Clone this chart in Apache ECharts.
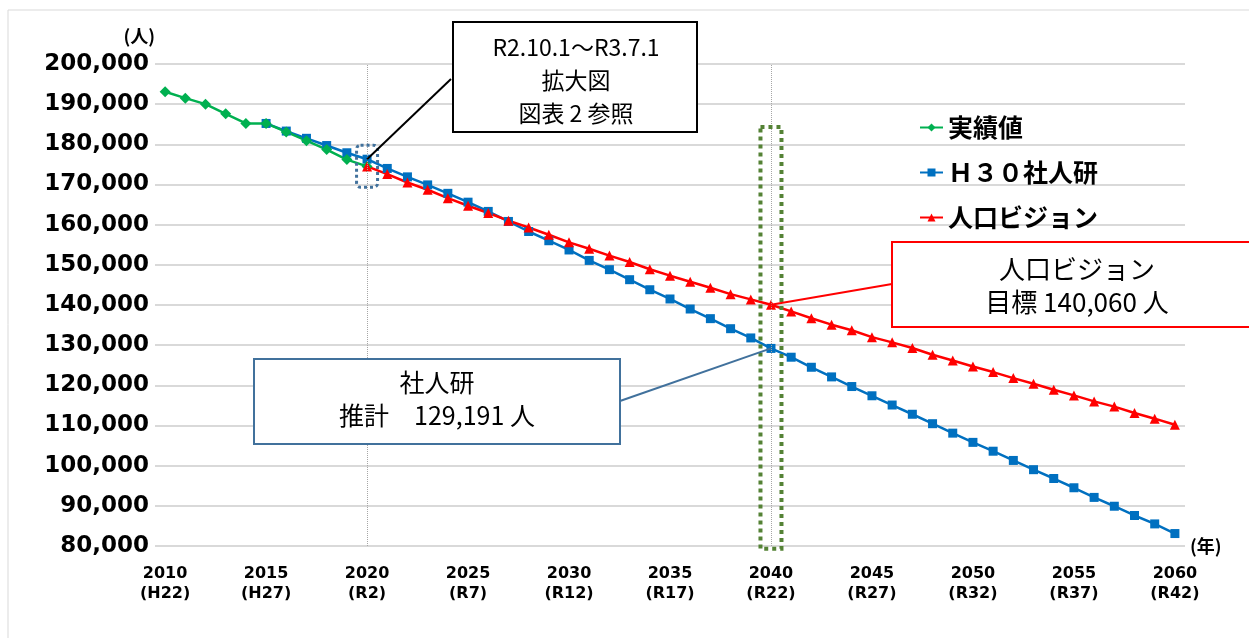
<!DOCTYPE html>
<html>
<head>
<meta charset="utf-8">
<script src="https://cdn.jsdelivr.net/npm/echarts@6/dist/echarts.min.js"></script>
<style>
  html, body { margin: 0; padding: 0; background: #fff; }
  #main { width: 1249px; height: 638px; }
</style>
</head>
<body>
<div id="main"></div>
<script>
// 年（横軸）
const years = [
  '2010', '2011', '2012', '2013', '2014', '2015', '2016', '2017', '2018', '2019',
  '2020', '2021', '2022', '2023', '2024', '2025', '2026', '2027', '2028', '2029',
  '2030', '2031', '2032', '2033', '2034', '2035', '2036', '2037', '2038', '2039',
  '2040', '2041', '2042', '2043', '2044', '2045', '2046', '2047', '2048', '2049',
  '2050', '2051', '2052', '2053', '2054', '2055', '2056', '2057', '2058', '2059',
  '2060'
]
// 5年ごとの和暦ラベル
const eraLabels = ['H22', 'H27', 'R2', 'R7', 'R12', 'R17', 'R22', 'R27', 'R32', 'R37', 'R42']

// 実績値 2010〜2020
const actualStart = '2010'
const actualValues = [193100, 191500, 190000, 187600, 185200, 185200, 183100, 180900, 178700, 176200, 174500]

// H30社人研 2015〜2060
const ipssStart = '2015'
const ipssValues = [
  185200, 183300, 181500, 179700, 177900, 176300, 174000, 171900, 169900, 167800,
  165600, 163300, 160800, 158300, 156000, 153700, 151100, 148800, 146300, 143800,
  141500, 139000, 136600, 134100, 131800, 129191, 127000, 124500, 122100, 119700,
  117400, 115100, 112800, 110450, 108100, 105800, 103600, 101300, 99000, 96800,
  94500, 92100, 89900, 87600, 85500, 83100
]

// 人口ビジョン 2020〜2060
const visionStart = '2020'
const visionValues = [
  174500, 172600, 170500, 168700, 166600, 164700, 162900, 161000, 159300, 157500,
  155600, 154000, 152300, 150700, 148900, 147300, 145800, 144300, 142700, 141400,
  140060, 138400, 136700, 135100, 133700, 132000, 130700, 129300, 127600, 126200,
  124700, 123300, 121800, 120400, 118900, 117500, 116000, 114700, 113100, 111700,
  110200
]

// 開始年に合わせて null で埋める
function pad (values, start) {
  const out = years.map(() => null)
  const s = years.indexOf(start)
  values.forEach((v, i) => { out[s + i] = v })
  return out
}

const actual = pad(actualValues, actualStart)
const ipss = pad(ipssValues, ipssStart)
const vision = pad(visionValues, visionStart)

const jp = '"Noto Sans CJK JP", "Noto Sans", sans-serif'
const num = '"DejaVu Sans", sans-serif'

const myChart = echarts.init(document.getElementById('main'))

const option = {
  backgroundColor: '#fff',
  animation: false,
  grid: { left: 155, right: 64, top: 64, bottom: 92 },
  legend: {
    orient: 'vertical',
    left: 914,
    top: 110,
    itemGap: 20,
    itemWidth: 23,
    itemHeight: 10,
    textStyle: { fontFamily: jp, fontSize: 25, fontWeight: 'bold', color: '#000' },
    data: ['実績値', 'Ｈ３０社人研', '人口ビジョン']
  },
  xAxis: {
    type: 'category',
    data: years,
    boundaryGap: true,
    name: '(年)',
    nameLocation: 'end',
    nameGap: 5,
    nameTextStyle: { fontFamily: jp, fontSize: 18, fontWeight: 'bold', color: '#000' },
    axisLine: { show: false },
    axisTick: { show: false },
    axisLabel: {
      interval: 4,
      margin: 18,
      lineHeight: 20,
      fontFamily: num,
      fontSize: 16,
      fontWeight: 'bold',
      color: '#000',
      formatter: function (value, index) {
        return value + '\n(' + eraLabels[index / 5] + ')'
      }
    }
  },
  yAxis: {
    type: 'value',
    min: 80000,
    max: 200000,
    interval: 10000,
    name: '(人)',
    nameLocation: 'end',
    nameGap: 19,
    nameTextStyle: { fontFamily: jp, fontSize: 18, fontWeight: 'bold', color: '#000', align: 'right' },
    axisLabel: {
      margin: 6,
      fontFamily: num,
      fontSize: 23,
      fontWeight: 'bold',
      color: '#000',
      formatter: function (v) { return v.toLocaleString('en-US') }
    },
    splitLine: { lineStyle: { color: '#d9d9d9', width: 2 } }
  },
  series: [
    {
      name: 'Ｈ３０社人研',
      type: 'line',
      data: ipss,
      color: '#0070c0',
      symbol: 'rect',
      symbolSize: 9,
      lineStyle: { width: 2.5 },
      markLine: {
        silent: true,
        symbol: 'none',
        label: { show: false },
        lineStyle: { color: '#a6a6a6', type: 'dotted', width: 1 },
        data: [{ xAxis: '2020' }, { xAxis: '2040' }]
      }
    },
    {
      name: '実績値',
      type: 'line',
      data: actual,
      color: '#00b050',
      symbol: 'diamond',
      symbolSize: 11,
      lineStyle: { width: 2.5 }
    },
    {
      name: '人口ビジョン',
      type: 'line',
      data: vision,
      color: '#ff0000',
      symbol: 'triangle',
      symbolSize: 10,
      lineStyle: { width: 2.5 }
    }
  ]
}
myChart.setOption(option)

// 注記（吹き出し）をデータ位置から配置
function px (year, v) {
  return myChart.convertToPixel({ gridIndex: 0 }, [year, v])
}
const p2020 = px('2020', ipss[years.indexOf('2020')])
const pIpss2040 = px('2040', ipss[years.indexOf('2040')])
const pVis2040 = px('2040', vision[years.indexOf('2040')])
const band = 21
const zoomTop = px('2020', 179800)[1]
const zoomBottom = px('2020', 169300)[1]
const greenTop = px('2040', 184300)[1]
const greenBottom = px('2040', 79300)[1]

myChart.setOption({
  graphic: [
    {
      type: 'rect',
      shape: { x: 8, y: 10, width: 1260, height: 640 },
      style: { fill: 'none', stroke: '#d9d9d9', lineWidth: 1 },
      silent: true
    },
    // 2020 拡大枠
    {
      type: 'rect',
      z: 100,
      shape: { x: p2020[0] - band / 2, y: zoomTop, width: band, height: zoomBottom - zoomTop, r: 4 },
      style: { fill: 'none', stroke: '#41719c', lineWidth: 3, lineDash: [3, 3] }
    },
    // 2040 縦枠
    {
      type: 'rect',
      z: 100,
      shape: { x: pIpss2040[0] - band / 2, y: greenTop, width: band, height: greenBottom - greenTop },
      style: { fill: 'none', stroke: '#548235', lineWidth: 4, lineDash: [4, 4] }
    },
    // 拡大図 吹き出し
    {
      type: 'line',
      z: 100,
      shape: { x1: 451, y1: 79, x2: p2020[0], y2: p2020[1] },
      style: { stroke: '#000', lineWidth: 2 }
    },
    {
      type: 'rect',
      z: 100,
      shape: { x: 453, y: 22, width: 244, height: 110 },
      style: { fill: '#fff', stroke: '#000', lineWidth: 2 }
    },
    {
      type: 'text',
      z: 101,
      x: 576,
      y: 80,
      style: {
        text: 'R2.10.1～R3.7.1\n拡大図\n図表 2 参照',
        font: '23px ' + jp,
        fill: '#000',
        align: 'center',
        verticalAlign: 'middle',
        lineHeight: 33
      }
    },
    // 人口ビジョン 吹き出し
    {
      type: 'line',
      z: 100,
      shape: { x1: 892, y1: 284, x2: pVis2040[0], y2: pVis2040[1] },
      style: { stroke: '#ff0000', lineWidth: 2 }
    },
    {
      type: 'rect',
      z: 100,
      shape: { x: 892, y: 242, width: 370, height: 85 },
      style: { fill: '#fff', stroke: '#ff0000', lineWidth: 2 }
    },
    {
      type: 'text',
      z: 101,
      x: 1077,
      y: 286,
      style: {
        text: '人口ビジョン\n目標 140,060 人',
        font: '26px ' + jp,
        fill: '#000',
        align: 'center',
        verticalAlign: 'middle',
        lineHeight: 33
      }
    },
    // 社人研 吹き出し
    {
      type: 'line',
      z: 100,
      shape: { x1: 620, y1: 401, x2: pIpss2040[0], y2: pIpss2040[1] },
      style: { stroke: '#41719c', lineWidth: 2 }
    },
    {
      type: 'rect',
      z: 100,
      shape: { x: 254, y: 359, width: 366, height: 85 },
      style: { fill: '#fff', stroke: '#41719c', lineWidth: 2 }
    },
    {
      type: 'text',
      z: 101,
      x: 437,
      y: 399,
      style: {
        text: '社人研\n推計　129,191 人',
        font: '25px ' + jp,
        fill: '#000',
        align: 'center',
        verticalAlign: 'middle',
        lineHeight: 33
      }
    }
  ]
})

window.addEventListener('resize', function () {
  myChart.resize()
})
</script>
</body>
</html>
